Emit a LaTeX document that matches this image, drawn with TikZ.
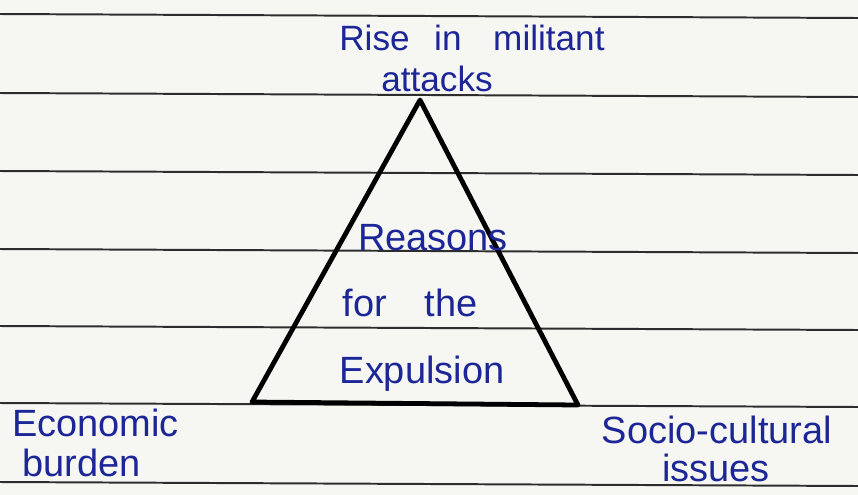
\documentclass[tikz,border=0pt]{standalone}
\usepackage{fontspec}
\setmainfont{Liberation Sans}
\definecolor{ink}{RGB}{28,38,150}
\definecolor{paper}{RGB}{246,246,243}
\definecolor{rule}{RGB}{45,45,45}
\tikzset{pen/.style={text=ink,font=\fontsize{27}{29}\selectfont,inner sep=0pt}}
\begin{document}
\begin{tikzpicture}[x=0.025cm,y=-0.025cm]
\fill[paper] (0,0) rectangle (858,495);
\useasboundingbox (0,0) rectangle (858,495);
\foreach \y in {14,93,171,249,326,403,482} \draw[rule,line width=1.4pt] (0,\y)--(858,\y+4);
\coordinate (top) at (420,100);\coordinate (bl) at (252,402);\coordinate (br) at (578,405);
\draw[line width=3.4pt,line join=round] (top)--(br)--(bl)--cycle;
\node[pen,font=\fontsize{25}{27}\selectfont] (rise) at (472,38) {Rise\hspace{0.7em}in\hspace{0.9em}militant};
\node[pen,font=\fontsize{25}{27}\selectfont] (att) at (437,79) {attacks};
\node[pen] (reas) at (433,238) {Reasons};
\node[pen] (for) at (410,303) {for\quad the};
\node[pen] (exp) at (422,374) {Expulsion};
\node[pen,anchor=west] (eco) at (12,423) {Economic};
\node[pen,anchor=west] (bur) at (22,463) {burden};
\node[pen] (soc) at (717,430) {Socio-cultural};
\node[pen] (iss) at (716,468) {issues};
\end{tikzpicture}
\end{document}
